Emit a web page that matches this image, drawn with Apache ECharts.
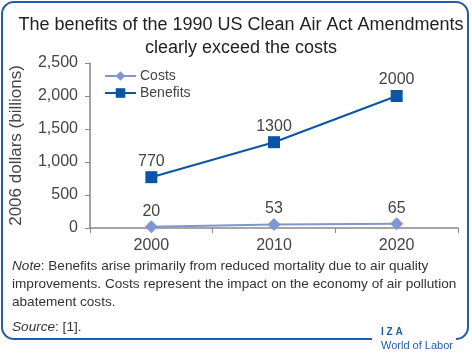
<!DOCTYPE html>
<html><head><meta charset="utf-8">
<script src="https://cdn.jsdelivr.net/npm/echarts@6/dist/echarts.min.js"></script>
<style>html,body{margin:0;padding:0;background:#fff}#c{width:472px;height:356px}</style>
</head><body><div id="c"></div>
<script>
var categories = ['2000', '2010', '2020'];
var costs = [20, 53, 65];
var benefits = [770, 1300, 2000];
var yTicks = [0, 500, 1000, 1500, 2000, 2500];

var FONT = 'Liberation Sans';
var chart = echarts.init(document.getElementById('c'));
chart.setOption({
  animation: false,
  textStyle: { fontFamily: FONT },
  title: {
    text: 'The benefits of the 1990 US Clean Air Act Amendments\nclearly exceed the costs',
    left: 236, top: 9, textAlign: 'center',
    textStyle: { fontSize: 18, fontWeight: 'normal', color: '#222', lineHeight: 23, fontFamily: FONT }
  },
  legend: {
    orient: 'vertical', left: 99, top: 64, itemGap: 3, itemWidth: 31, itemHeight: 12,
    textStyle: { fontSize: 14, color: '#444', fontFamily: FONT, padding: [0, 0, 0, -1] },
    data: ['Costs', 'Benefits']
  },
  grid: { left: 86, right: 14, top: 63, bottom: 128 },
  xAxis: {
    type: 'category', data: categories, boundaryGap: true,
    axisLine: { lineStyle: { color: '#888', width: 1.5 } },
    axisTick: { show: true, length: 5, lineStyle: { color: '#888' } },
    axisLabel: { fontSize: 16, color: '#444', margin: 10, fontFamily: FONT }
  },
  yAxis: {
    type: 'value', min: 0, max: 2500, interval: 500,
    name: '2006 dollars (billions)', nameLocation: 'middle', nameGap: 65, nameRotate: 90,
    nameTextStyle: { fontSize: 17, color: '#444', fontFamily: FONT },
    axisLine: { show: true, lineStyle: { color: '#888', width: 1.5 } },
    axisTick: { show: true, length: 5, lineStyle: { color: '#888' } },
    splitLine: { show: false },
    axisLabel: { fontSize: 16, color: '#444', margin: 12, fontFamily: FONT,
      formatter: function (v) { return v.toLocaleString('en-US'); } }
  },
  series: [
    { name: 'Costs', type: 'line', data: costs, symbol: 'diamond', symbolSize: 13,
      itemStyle: { color: '#7f97cf' }, lineStyle: { color: '#7f97cf', width: 2 },
      label: { show: true, position: 'top', distance: 1, fontSize: 16, color: '#444', fontFamily: FONT } },
    { name: 'Benefits', type: 'line', data: benefits, symbol: 'rect', symbolSize: 12,
      itemStyle: { color: '#0b55a5' }, lineStyle: { color: '#0b55a5', width: 2 },
      label: { show: true, position: 'top', distance: 2, fontSize: 16, color: '#444', fontFamily: FONT } }
  ],
  graphic: [
    { type: 'rect', shape: { x: 2, y: 2, width: 466, height: 337, r: 12 }, z: -1,
      style: { fill: 'none', stroke: '#1f5ea8', lineWidth: 2 } },
    { type: 'rect', shape: { x: 372, y: 334, width: 84, height: 10 }, z: 0,
      style: { fill: '#fff' } },
    { type: 'text', left: 12, top: 257, z: 1,
      style: { text: '{i|Note}: Benefits arise primarily from reduced mortality due to air quality\nimprovements. Costs represent the impact on the economy of air pollution\nabatement costs.',
        font: '13.6px ' + FONT, fill: '#333', lineHeight: 18,
        rich: { i: { fontStyle: 'italic', fontSize: 13.6, fontFamily: FONT, fill: '#333' } } } },
    { type: 'text', left: 12, top: 320, z: 1,
      style: { text: '{i|Source}: [1].', font: '13.6px ' + FONT, fill: '#333',
        rich: { i: { fontStyle: 'italic', fontSize: 13.6, fontFamily: FONT, fill: '#333' } } } },
    { type: 'text', left: 381, top: 327, z: 1,
      style: { text: 'I Z A', font: 'bold 10px ' + FONT, fill: '#1f5ea8' } },
    { type: 'text', left: 381, top: 340, z: 1,
      style: { text: 'World of Labor', font: '11px ' + FONT, fill: '#1f5ea8' } }
  ]
});
</script></body></html>
